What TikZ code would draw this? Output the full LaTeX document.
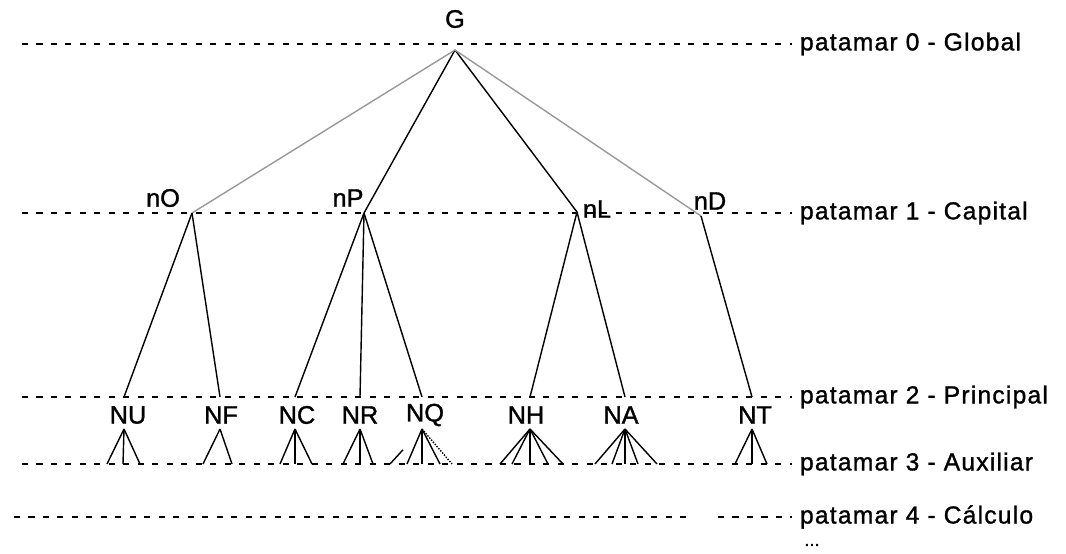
\documentclass[tikz,border=0pt]{standalone}
\usepackage{fontspec}
\setmainfont{Liberation Sans}[UprightFeatures={FakeBold=1.2}]
\newfontfamily\levelfont{Liberation Sans}[LetterSpace=5,UprightFeatures={FakeBold=1.2}]

\begin{document}
\begin{tikzpicture}[
  x=0.025cm,
  y=-0.025cm,
  inner sep=0pt,
  outer sep=0pt,
  every node/.append style={font=\fontsize{18}{20}\selectfont},
]
  \useasboundingbox (0,0) rectangle (1066,553);

  % the levels, dashed, with their names on the right
  \begin{scope}[
    dash pattern=on 4.3pt off 6pt,
    line width=1.3pt,
    every node/.append style={
      anchor=west,
      font=\levelfont\fontsize{17.5}{20}\selectfont,
    },
  ]
    \foreach \lev/\y/\txt in {
      0/44/Global,
      1/213/Capital,
      2/397/Principal,
      3/464/Auxiliar%
    } {
      \draw (22,\y) -- (792,\y);
      \node (lev\lev) at (800,\y) {patamar \lev\ - \txt};
    }
    \draw (14,517) -- (690,517) (718,517) -- (792,517);
    \node (lev4) at (800,517) {patamar 4 - Cálculo};
  \end{scope}
  \node[font=\fontsize{13}{14}\selectfont] (more) at (812,545) {...};

  % root and capital nodes
  \node (G) at (455,19) {G};
  \coordinate (G-j) at (455,50);
  \foreach \name/\lx/\ly/\jx/\jy in {
    nO/163/198/192/213,
    nP/348/198/364/213,
    nL/597/209/577/212,
    nD/710/201/701/216%
  } {
    \node (\name) at (\lx,\ly) {\name};
    \coordinate (\name-j) at (\jx,\jy);
  }

  % principal nodes: label, top on the level, apex of the legs
  \foreach \name/\lx/\ax in {
    NU/128/124, NF/221/220, NC/297/295, NR/360/360,
    NQ/425/422, NH/526/530, NA/621/625, NT/755/752%
  } {
    \node (\name) at (\lx,415) {\name};
    \coordinate (\name-top) at (\ax,397);
    \coordinate (\name-apex) at (\ax,429);
  }

  \begin{scope}[line width=1pt]
    \foreach \c in {nP, nL}
      \draw (G-j) -- (\c-j);
    \foreach \c in {nO, nD}
      \draw[black!40] (G-j) -- (\c-j);
    \foreach \p/\c in {nO/NU, nO/NF, nP/NC, nP/NR, nP/NQ, nL/NH, nL/NA, nD/NT}
      \draw (\p-j) -- (\c-top);

    % legs down to the auxiliary level
    \def\Legs#1#2{
      \foreach \dx in {#2}
        \draw (#1-apex) -- ++(\dx,35);%
    }
    \Legs{NU}{-17,-1,16}
    \Legs{NF}{-17,12}
    \Legs{NC}{-15,0,17}
    \Legs{NR}{-17,0,13}
    \Legs{NQ}{-15,0,18}
    \Legs{NH}{-30,-18,0,18,33}
    \Legs{NA}{-30,-13,0,13,32}
    \Legs{NT}{-17,0,15}
    \draw[shorten <=20pt] (NQ-apex) -- ++(-32,35);
    \draw[densely dotted] (NQ-apex) -- ++(30,35);
  \end{scope}
\end{tikzpicture}
\end{document}
